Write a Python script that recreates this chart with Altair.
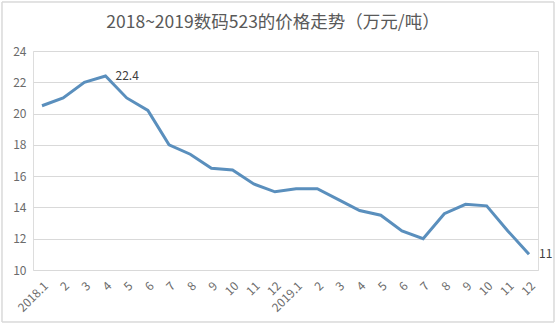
import altair as alt
import pandas as pd

labels = ["2018.1", "2", "3", "4", "5", "6", "7", "8", "9", "10", "11", "12",
          "2019.1", "2", "3", "4", "5", "6", "7", "8", "9", "10", "11", "12"]
values = [20.5, 21.0, 22.0, 22.4, 21.0, 20.2, 18.0, 17.4, 16.5, 16.4, 15.5, 15.0,
          15.2, 15.2, 14.5, 13.8, 13.5, 12.5, 12.0, 13.6, 14.2, 14.1, 12.5, 11.0]
y_ticks = [10, 12, 14, 16, 18, 20, 22, 24]
annot_idx = [3, 23]
annot_text = ["22.4", "11"]
title_text = ["2018~2019数码523的价格走势（万元/吨）"]

df = pd.DataFrame({"i": list(range(len(values))), "v": values, "lab": labels})
ann = pd.DataFrame({"i": annot_idx, "v": [values[k] for k in annot_idx], "t": annot_text})
tdf = pd.DataFrame({"t": title_text})

label_js = "[" + ",".join("'" + s + "'" for s in labels) + "][datum.value]"
FONT = "Noto Sans CJK SC"

x = alt.X("i:Q", scale=alt.Scale(domain=[-0.425, 23.425], nice=False, zero=False),
          axis=alt.Axis(values=list(range(24)), labelExpr=label_js, labelAngle=-45,
                        labelAlign="right", labelBaseline="top", labelPadding=10,
                        labelOverlap=False, labelBound=False, labelFlush=False,
                        ticks=False, domain=False, grid=False, title=None,
                        labelFont=FONT, labelFontSize=12, labelColor="#6b6b6b"))
y = alt.Y("v:Q", scale=alt.Scale(domain=[10, 24], nice=False, zero=False),
          axis=alt.Axis(values=y_ticks, ticks=False, domain=False, labelOverlap=False,
                        labelFlush=False, labelBound=False,
                        gridColor="#d9d9d9", gridWidth=1, labelPadding=7, title=None,
                        labelFont=FONT, labelFontSize=12, labelColor="#6b6b6b"))

line = alt.Chart(df).mark_line(color="#5a8fbd", strokeWidth=3).encode(x=x, y=y)
text = alt.Chart(ann).mark_text(align="left", dx=10, font=FONT, fontSize=12,
                                color="#404040").encode(x=x, y=y, text="t:N")
frame = alt.Chart(ann).mark_rect(fill=None, stroke="#d9d9d9", strokeWidth=1).encode(
    x=alt.value(-31), x2=alt.value(505 + 16), y=alt.value(-49), y2=alt.value(219 + 52))
title = alt.Chart(tdf).mark_text(align="center", baseline="middle", font=FONT, fontSize=17.5,
                                 color="#595959").encode(
    x=alt.value(240), y=alt.value(-28), text="t:N")

chart = (frame + line + text + title).properties(
    width=505, height=219,
    padding={"left": 33, "top": 51, "right": 18, "bottom": 54},
    autosize=alt.AutoSizeParams(type="none"),
).configure_view(stroke=None).configure_axis(labelOverlap=False).configure(background="white")

chart.save("out.html", embed_options={"renderer": "svg", "actions": False})
